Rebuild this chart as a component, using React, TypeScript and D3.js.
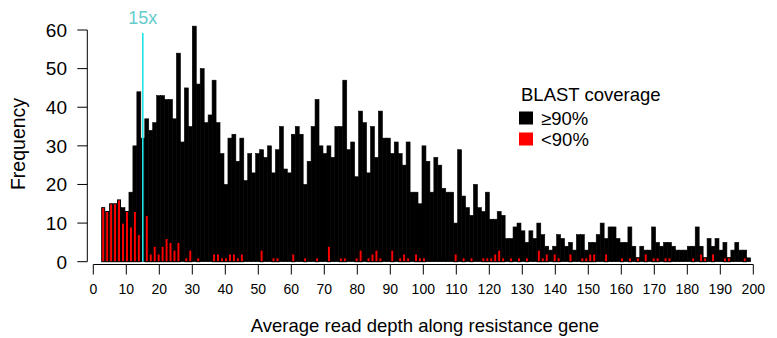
import React from "react";
import * as d3 from "d3";

// Histogram bin width (units of read depth); bins start at 0
const BIN_WIDTH = 1.2;

// Counts per bin, BLAST coverage >= 90%
const highCoverage = [
  0, 0, 0, 0, 0, 0, 0, 14, 13, 18,
  30, 44, 32, 37, 34, 36, 43, 43, 42, 42,
  37, 54, 31, 45, 35, 61, 46, 50, 36, 38,
  47, 36, 28, 20, 32, 33, 26, 32, 21, 28,
  23, 28, 29, 27, 30, 23, 29, 35, 24, 23,
  33, 35, 33, 20, 26, 35, 42, 30, 28, 30,
  27, 35, 35, 47, 29, 31, 22, 39, 36, 23,
  35, 27, 39, 32, 32, 28, 31, 28, 25, 31,
  18, 18, 15, 30, 26, 18, 27, 25, 19, 18,
  18, 10, 29, 17, 14, 12, 20, 14, 13, 18,
  11, 11, 13, 12, 6, 6, 9, 10, 8, 5,
  8, 6, 10, 7, 4, 3, 4, 7, 6, 4,
  5, 3, 7, 7, 3, 5, 5, 7, 10, 6,
  9, 9, 6, 5, 5, 9, 4, 1, 4, 3,
  3, 9, 5, 4, 5, 5, 4, 3, 3, 3,
  4, 4, 9, 4, 1, 6, 4, 6, 3, 5,
  1, 3, 5, 3, 3, 1, 0,
];

// Counts per bin, BLAST coverage < 90%
const lowCoverage = [
  0, 0, 14, 13, 15, 15, 16, 10, 13, 9,
  13, 7, 0, 12, 2, 4, 2, 4, 6, 5,
  3, 5, 0, 1, 3, 0, 1, 0, 0, 0,
  2, 2, 1, 1, 2, 2, 1, 2, 0, 0,
  0, 0, 3, 0, 0, 1, 1, 0, 0, 0,
  2, 0, 0, 1, 0, 0, 1, 0, 0, 4,
  0, 0, 1, 1, 0, 0, 1, 3, 0, 1,
  2, 3, 1, 0, 0, 3, 0, 1, 2, 1,
  0, 2, 1, 1, 0, 0, 0, 0, 0, 0,
  0, 2, 0, 1, 0, 1, 0, 0, 1, 1,
  1, 2, 3, 1, 0, 1, 0, 1, 0, 1,
  0, 0, 3, 1, 2, 0, 2, 1, 0, 0,
  2, 0, 0, 1, 1, 2, 2, 0, 0, 2,
  0, 0, 0, 1, 0, 1, 0, 1, 0, 2,
  0, 1, 1, 0, 1, 1, 0, 0, 0, 0,
  0, 1, 0, 2, 1, 0, 2, 0, 0, 1,
  1, 0, 0, 0, 1, 0, 0,
];

const xTicks = [0, 10, 20, 30, 40, 50, 60, 70, 80, 90, 100, 110, 120, 130, 140, 150, 160, 170, 180, 190, 200];
const yTicks = [0, 10, 20, 30, 40, 50, 60];
const thresholdDepth = 15;
const thresholdLabel = "15x";
const legendTitle = "BLAST coverage";
const legendItems = [
  { label: "≥90%", color: "#000000" },
  { label: "<90%", color: "#ff0000" },
];
const xTitle = "Average read depth along resistance gene";
const yTitle = "Frequency";

const FONT = "'Liberation Sans', Arial, Helvetica, sans-serif";

export default function App() {
  const W = 777;
  const H = 338;
  const x = d3.scaleLinear().domain([0, 200]).range([93.3, 753.3]);
  const y = d3.scaleLinear().domain([0, 60]).range([261.7, 30]);
  const axisY = 264.5;
  const axisX = 87.3;
  const tickLen = 10;

  const bars = (counts: number[]) =>
    counts.map((c, i) => {
      const x0 = x(i * BIN_WIDTH);
      const x1 = x((i + 1) * BIN_WIDTH);
      return { x: x0, w: x1 - x0, y: y(c), h: y(0) - y(c) };
    });

  const black = bars(highCoverage);
  const red = bars(lowCoverage);

  return (
    <svg
      width={W}
      height={H}
      style={{ position: "absolute", left: 0, top: 0, background: "#fff" }}
      fontFamily={FONT}
    >
      <g>
        {black.map((b, i) => (
          <rect key={"b" + i} x={b.x} y={b.y} width={b.w} height={b.h} fill="#000" stroke="#000" strokeWidth={0.6} />
        ))}
      </g>
      <g>
        {red.map((b, i) => (
          <rect key={"r" + i} x={b.x + 0.5} y={b.y} width={b.w - 1} height={b.h} fill="#ff0000" stroke="#000" strokeWidth={1} />
        ))}
      </g>
      {/* threshold line */}
      <line x1={x(thresholdDepth)} x2={x(thresholdDepth)} y1={y(0)} y2={33} stroke="#22e3e3" strokeWidth={1.6} />
      <text x={x(thresholdDepth)} y={24} textAnchor="middle" fontSize={18} fill="#66cccc">
        {thresholdLabel}
      </text>

      {/* x axis */}
      <line x1={x(0)} x2={x(200)} y1={axisY} y2={axisY} stroke="#000" strokeWidth={1} />
      {xTicks.map((t) => (
        <g key={"xt" + t}>
          <line x1={x(t)} x2={x(t)} y1={axisY} y2={axisY + tickLen} stroke="#000" strokeWidth={1} />
          <text x={x(t)} y={294} textAnchor="middle" fontSize={14} fill="#000">
            {t}
          </text>
        </g>
      ))}
      <text x={425} y={332} textAnchor="middle" fontSize={18.5} fill="#000">
        {xTitle}
      </text>

      {/* y axis */}
      <line x1={axisX} x2={axisX} y1={y(0)} y2={y(60)} stroke="#000" strokeWidth={1} />
      {yTicks.map((t) => (
        <g key={"yt" + t}>
          <line x1={axisX - tickLen} x2={axisX} y1={y(t)} y2={y(t)} stroke="#000" strokeWidth={1} />
          <text x={67} y={y(t)} dy="0.36em" textAnchor="end" fontSize={19} fill="#000">
            {t}
          </text>
        </g>
      ))}
      <text transform={`translate(25, 144) rotate(-90)`} textAnchor="middle" fontSize={19.5} fill="#000">
        {yTitle}
      </text>

      {/* legend */}
      <text x={521} y={101} fontSize={18.5} fill="#000">
        {legendTitle}
      </text>
      {legendItems.map((d, i) => (
        <g key={d.label}>
          <rect x={519} y={111.5 + i * 21} width={14} height={13} fill={d.color} />
          <text x={541} y={124.5 + i * 21} fontSize={18.5} fill="#000">
            {d.label}
          </text>
        </g>
      ))}
    </svg>
  );
}
